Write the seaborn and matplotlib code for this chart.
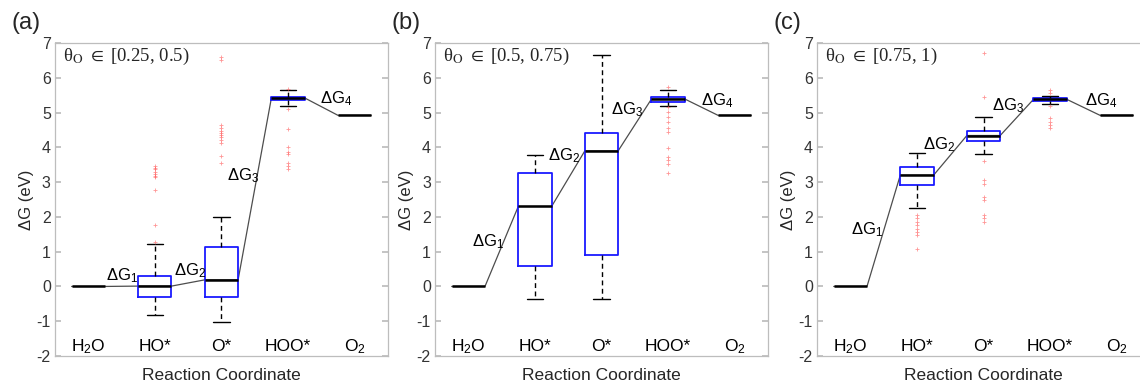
import pandas as pd
import matplotlib
matplotlib.use("Agg")
import matplotlib.pyplot as plt
import seaborn as sns

# reaction stages along the x axis
stages = ["H2O", "HO*", "O*", "HOO*", "O2"]
stage_labels = ["H$_2$O", "HO*", "O*", "HOO*", "O$_2$"]
panel_tags = ["(a)", "(b)", "(c)"]
coverage_ranges = ["[0.25, 0.5)", "[0.5, 0.75)", "[0.75, 1)"]
dg_labels = ["ΔG$_1$", "ΔG$_2$", "ΔG$_3$", "ΔG$_4$"]

# fixed levels (eV)
h2o_level = 0.0
o2_level = 4.92

# box summaries: [whisker low, q1, median, q3, whisker high]
ho_a = [-0.82, -0.30, 0.01, 0.31, 1.22]
o_a = [-1.03, -0.30, 0.19, 1.14, 2.00]
hoo_a = [5.20, 5.35, 5.42, 5.46, 5.65]

ho_b = [-0.37, 0.60, 2.30, 3.26, 3.77]
o_b = [-0.36, 0.89, 3.90, 4.40, 6.65]
hoo_b = [5.18, 5.30, 5.39, 5.44, 5.66]

ho_c = [2.26, 2.92, 3.20, 3.43, 3.83]
o_c = [3.81, 4.19, 4.34, 4.47, 4.87]
hoo_c = [5.24, 5.34, 5.38, 5.42, 5.49]

# outliers
ho_a_fliers = [1.27, 1.78, 2.76, 3.15, 3.18, 3.24, 3.30, 3.38, 3.42, 3.46]
o_a_fliers = [3.55, 3.76, 4.13, 4.20, 4.30, 4.36, 4.40, 4.47, 4.55, 4.63, 6.50, 6.60]
hoo_a_fliers = [5.68, 5.10, 4.54, 4.01, 3.87, 3.80, 3.55, 3.46, 3.39]

ho_b_fliers = []
o_b_fliers = []
hoo_b_fliers = [5.74, 5.17, 5.03, 4.88, 4.74, 4.55, 4.45, 3.97, 3.73, 3.64, 3.52, 3.27]

ho_c_fliers = [2.06, 1.96, 1.86, 1.76, 1.66, 1.56, 1.47, 1.07]
o_c_fliers = [6.70, 5.46, 3.60, 3.05, 2.96, 2.57, 2.50, 2.05, 1.96, 1.85]
hoo_c_fliers = [5.64, 5.57, 5.18, 4.83, 4.73, 4.64, 4.56]

boxes = [[ho_a, o_a, hoo_a], [ho_b, o_b, hoo_b], [ho_c, o_c, hoo_c]]
fliers = [[ho_a_fliers, o_a_fliers, hoo_a_fliers],
          [ho_b_fliers, o_b_fliers, hoo_b_fliers],
          [ho_c_fliers, o_c_fliers, hoo_c_fliers]]

# label anchor points (x in category units, y in eV)
dg_pos = [[(0.27, 0.32), (1.29, 0.46), (2.08, 3.20), (3.48, 5.40)],
          [(0.05, 1.30), (1.20, 3.77), (2.14, 5.09), (3.50, 5.35)],
          [(0.01, 1.63), (1.09, 4.09), (2.13, 5.20), (3.52, 5.34)]]

sns.set_theme(style="white")
plt.rcParams["font.family"] = ["Liberation Sans", "DejaVu Sans"]
plt.rcParams["mathtext.fontset"] = "custom"
plt.rcParams["mathtext.rm"] = "Liberation Sans"
plt.rcParams["mathtext.it"] = "Liberation Sans:italic"
plt.rcParams["axes.unicode_minus"] = False

fig = plt.figure(figsize=(11.4, 3.83), dpi=100)
lefts = [0.0482, 0.3816, 0.7167]
axes = [fig.add_axes([l, 0.0705, 0.2921, 0.8172]) for l in lefts]

grey = "#bdbdbd"
for i, ax in enumerate(axes):
    rows = []
    for stage, vals in zip(stages[1:4], boxes[i]):
        rows += [(stage, v) for v in vals]
    box_df = pd.DataFrame(rows, columns=["stage", "dG"])

    frows = []
    for stage, vals in zip(stages[1:4], fliers[i]):
        frows += [(stage, v) for v in vals]
    fl_df = pd.DataFrame(frows, columns=["stage", "dG"])

    # connector through the medians
    levels = [h2o_level] + [b[2] for b in boxes[i]] + [o2_level]
    xs, ys = [], []
    for j, lv in enumerate(levels):
        xs += [j - 0.25, j + 0.25]
        ys += [lv, lv]
    ax.plot(xs, ys, color="#4d4d4d", lw=0.9, zorder=1)
    ax.hlines([h2o_level, o2_level], [-0.25, 3.75], [0.25, 4.25],
              color="black", lw=1.8, zorder=2)

    sns.boxplot(data=box_df, x="stage", y="dG", order=stages, whis=(0, 100),
                width=0.5, showfliers=False, fill=False, color="black",
                boxprops=dict(color="#1a1aff", lw=1.3),
                medianprops=dict(color="black", lw=1.8),
                whiskerprops=dict(color="black", ls=(0, (3.5, 2.5)), lw=1.0),
                capprops=dict(color="black", lw=1.0),
                ax=ax, zorder=3)
    if len(fl_df):
        sns.stripplot(data=fl_df, x="stage", y="dG", order=stages, jitter=False,
                      marker="+", color="#ff5050", size=3.2, linewidth=0.6, alpha=0.6,
                      ax=ax, zorder=4)

    for j, lab in enumerate(stage_labels):
        ax.text(j, -1.72, lab, ha="center", va="center", fontsize=12.5, color="black")
    for (x, y), lab in zip(dg_pos[i], dg_labels):
        ax.text(x, y, lab, ha="left", va="center", fontsize=12, color="black")
    ax.text(-0.38, 6.6, "θ$_\\mathrm{O}$ $\\in$ " + coverage_ranges[i], ha="left",
            va="center", fontsize=13.5, family="Liberation Serif",
            math_fontfamily="stix")
    ax.text(-0.13, 1.1, panel_tags[i], transform=ax.transAxes, ha="left", va="top",
            fontsize=17)

    ax.set_xlim(-0.5, 4.5)
    ax.set_ylim(-2, 7)
    ax.set_xticks([])
    ax.set_yticks(range(-2, 8))
    ax.tick_params(axis="y", direction="in", left=True, right=True, length=4,
                   color=grey, labelcolor="#333333", labelsize=11.5, pad=3)
    for sp in ax.spines.values():
        sp.set_color(grey)
        sp.set_linewidth(0.9)
    ax.set_ylabel("ΔG (eV)", fontsize=12, labelpad=2)
    ax.set_xlabel("Reaction Coordinate", fontsize=12.5, labelpad=9)

fig.savefig("out.png", dpi=100)
